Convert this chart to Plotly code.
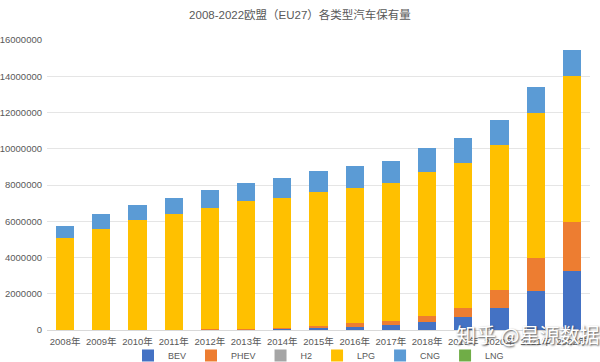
import plotly.graph_objects as go

years = ["2008年", "2009年", "2010年", "2011年", "2012年", "2013年", "2014年", "2015年",
         "2016年", "2017年", "2018年", "2019年", "2020年", "2021年", "2022年"]
bev = [2000, 3000, 5000, 10000, 20000, 40000, 70000, 100000, 170000, 280000, 440000, 700000, 1200000, 2150000, 3250000]
phev = [1000, 2000, 3000, 10000, 20000, 30000, 50000, 120000, 210000, 220000, 330000, 500000, 1000000, 1850000, 2700000]
h2 = [0, 0, 0, 0, 0, 0, 0, 0, 0, 0, 0, 0, 0, 0, 0]
lpg = [5080000, 5570000, 6060000, 6360000, 6690000, 7030000, 7180000, 7380000, 7470000, 7600000, 7930000, 8000000, 8000000, 8000000, 8050000]
cng = [670000, 830000, 830000, 880000, 970000, 1030000, 1100000, 1160000, 1200000, 1250000, 1320000, 1390000, 1400000, 1400000, 1450000]
lng = [0, 0, 0, 0, 0, 0, 0, 0, 0, 0, 0, 0, 0, 0, 0]

series = [("BEV", bev, "#4472C4"), ("PHEV", phev, "#ED7D31"), ("H2", h2, "#A5A5A5"),
          ("LPG", lpg, "#FFC000"), ("CNG", cng, "#5B9BD5"), ("LNG", lng, "#70AD47")]

fig = go.Figure()
for name, vals, color in series:
    fig.add_trace(go.Bar(x=years, y=vals, name=name, marker=dict(color=color, line=dict(width=0))))

fig.update_layout(
    barmode="stack",
    bargap=0.5,
    width=600, height=362,
    margin=dict(l=47, r=10, t=40, b=32, autoexpand=False),
    paper_bgcolor="white", plot_bgcolor="white",
    font=dict(family="Liberation Sans, Arial, Noto Sans CJK SC, sans-serif", size=9, color="#595959"),
    title=dict(text="2008-2022欧盟（EU27）各类型汽车保有量", x=0.5, xanchor="center",
               yref="container", y=0.958, yanchor="middle",
               font=dict(family="Liberation Sans, Noto Sans CJK SC, sans-serif", size=11.5, color="#595959")),
    legend=dict(orientation="h", x=0.5, xanchor="center", yref="container", y=0.018, yanchor="middle",
                bgcolor="rgba(0,0,0,0)", font=dict(size=9, color="#595959"), itemwidth=30, traceorder="normal"),
    showlegend=True,
)
fig.update_xaxes(showgrid=False, showline=True, linecolor="#D9D9D9", ticks="", ticklabelstandoff=3,
                 tickfont=dict(size=9.5, family="Liberation Sans, Noto Sans CJK SC, sans-serif"))
fig.update_yaxes(range=[0, 16000000], dtick=2000000, tickformat="d", showgrid=True, gridcolor="#E5E5E5",
                 zeroline=False, ticks="", tickfont=dict(size=9.5), ticklabelstandoff=4)
fig.add_annotation(text="知乎 @星源数据", xref="paper", yref="paper", x=1.02, y=-0.015, xanchor="right", yanchor="middle",
                   showarrow=False, font=dict(size=20, color="white", shadow="1px 1px 2px #444",
                                              family="Noto Sans CJK SC, sans-serif"))
fig.write_html("out.html", config={"displayModeBar": False},
               post_script="document.body.style.margin='0';document.body.style.overflow='hidden';")
